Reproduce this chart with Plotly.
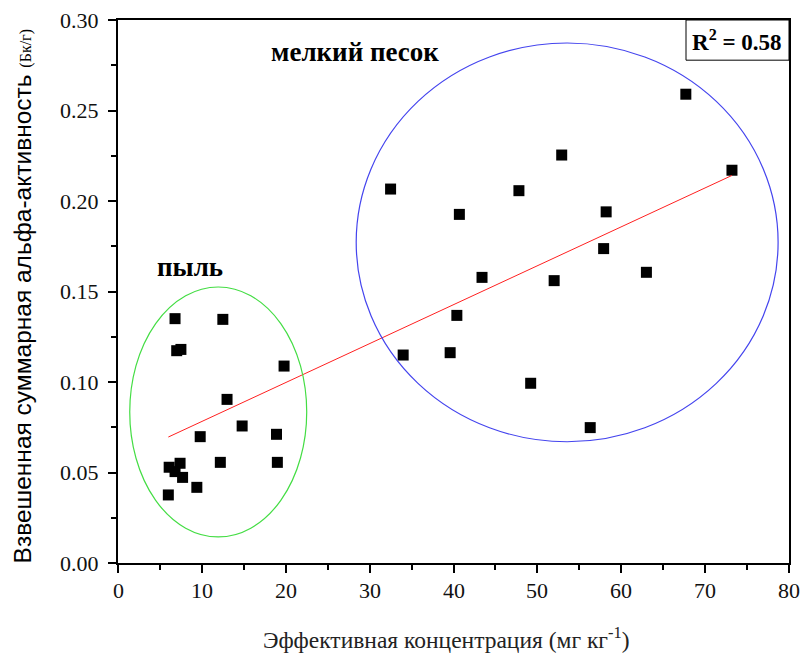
import numpy as np
import plotly.graph_objects as go

# Dust cluster (пыль)
dust_x = [6.8, 12.5, 7.0, 7.5, 19.8, 13.0, 14.8, 9.8, 18.9, 12.2, 19.0, 6.1, 7.4, 6.8, 7.7, 9.4, 6.0]
dust_y = [0.135, 0.1346, 0.1173, 0.118, 0.1088, 0.0904, 0.0757, 0.0698, 0.0711, 0.0556, 0.0556,
          0.0529, 0.0551, 0.0505, 0.0473, 0.0418, 0.0376]
# Fine sand cluster (мелкий песок)
sand_x = [67.7, 52.9, 73.2, 32.5, 47.8, 40.7, 58.2, 57.9, 43.4, 52.0, 63.0, 40.4, 34.0, 39.6, 49.2, 56.3]
sand_y = [0.259, 0.2254, 0.217, 0.2066, 0.2057, 0.1926, 0.194, 0.1737, 0.1578, 0.156, 0.1606,
          0.1368, 0.1149, 0.1162, 0.0993, 0.0748]

# Tick values / labels
x_ticks = [0, 10, 20, 30, 40, 50, 60, 70, 80]
y_ticks = [0.00, 0.05, 0.10, 0.15, 0.20, 0.25, 0.30]
x_tick_labels = ["0", "10", "20", "30", "40", "50", "60", "70", "80"]
y_tick_labels = ["0.00", "0.05", "0.10", "0.15", "0.20", "0.25", "0.30"]

x_all = np.array(dust_x + sand_x)
y_all = np.array(dust_y + sand_y)
slope, intercept = np.polyfit(x_all, y_all, 1)
fit_x = np.array([x_all.min(), x_all.max()])
fit_y = slope * fit_x + intercept

serif = "Liberation Serif"

fig = go.Figure()
fig.add_trace(go.Scatter(x=x_all, y=y_all, mode="markers",
                         marker=dict(symbol="square", size=11, color="black"),
                         showlegend=False))
fig.add_trace(go.Scatter(x=fit_x, y=fit_y, mode="lines",
                         line=dict(color="#ff2020", width=1), showlegend=False))

# cluster ellipses
fig.add_shape(type="circle", xref="x", yref="y", x0=1.4, x1=22.5, y0=0.0144, y1=0.1525,
              line=dict(color="#44dd44", width=1.2))
fig.add_shape(type="circle", xref="x", yref="y", x0=28.4, x1=78.7, y0=0.067, y1=0.2873,
              line=dict(color="#4444ee", width=1.2))

# R^2 box
fig.add_shape(type="rect", xref="paper", yref="paper", x0=0.8465, x1=1.0, y0=0.926, y1=1.0,
              line=dict(color="black", width=1))
fig.add_annotation(xref="paper", yref="paper", x=0.923, y=0.963, xanchor="center", yanchor="middle",
                   text="<b>R<sup>2</sup> = 0.58</b>",
                   showarrow=False, font=dict(family=serif, size=23, color="black"))

fig.add_annotation(x=28.3, y=0.2823, xref="x", yref="y", text="<b>мелкий песок</b>", showarrow=False,
                   xanchor="center", yanchor="middle",
                   font=dict(family=serif, size=27, color="black"))
fig.add_annotation(x=8.6, y=0.1636, xref="x", yref="y", text="<b>пыль</b>", showarrow=False,
                   xanchor="center", yanchor="middle",
                   font=dict(family=serif, size=27, color="black"))

# tick labels as serif text
for v, lab in zip(x_ticks, x_tick_labels):
    fig.add_annotation(x=v, xref="x", y=0, yref="paper", text=lab, showarrow=False,
                       xanchor="center", yanchor="top", yshift=-13,
                       font=dict(family=serif, size=22, color="#111"))
for v, lab in zip(y_ticks, y_tick_labels):
    fig.add_annotation(x=0, xref="paper", y=v, yref="y", text=lab, showarrow=False,
                       xanchor="right", yanchor="middle", xshift=-17,
                       font=dict(family=serif, size=22, color="#111"))

# axis titles
fig.add_annotation(x=0.49, xref="paper", y=0, yref="paper", yanchor="middle", xanchor="center",
                   yshift=-75, showarrow=False,
                   text="Эффективная концентрация (мг кг<sup>-1</sup>)",
                   font=dict(family=serif, size=23.5, color="#222"))
fig.add_annotation(x=0, xref="paper", y=0.491, yref="paper", xanchor="center", yanchor="middle",
                   xshift=-96, showarrow=False, textangle=-90,
                   text="Взвешенная суммарная альфа-активность "
                        "<span style='font-family:Liberation Serif;font-size:16px'>(Бк/г)</span>",
                   font=dict(family="Liberation Sans", size=24.5, color="black"))

axis_common = dict(showline=True, linecolor="black", linewidth=2, mirror=True,
                   ticks="outside", ticklen=8, tickwidth=2, tickcolor="black",
                   showgrid=False, zeroline=False, showticklabels=False, automargin=False)

fig.update_layout(
    width=803, height=653, plot_bgcolor="white", paper_bgcolor="white",
    margin=dict(l=118, r=14, t=20, b=90),
    font=dict(family=serif, size=21, color="black"),
    xaxis=dict(range=[0, 80], tickmode="array", tickvals=x_ticks,
               minor=dict(ticks="outside", ticklen=5, tickwidth=1.5, dtick=5, tick0=0, tickcolor="black"),
               **axis_common),
    yaxis=dict(range=[0, 0.30], tickmode="array", tickvals=y_ticks,
               minor=dict(ticks="outside", ticklen=5, tickwidth=1.5, dtick=0.025, tick0=0, tickcolor="black"),
               **axis_common),
)

fig.write_html("out.html")
